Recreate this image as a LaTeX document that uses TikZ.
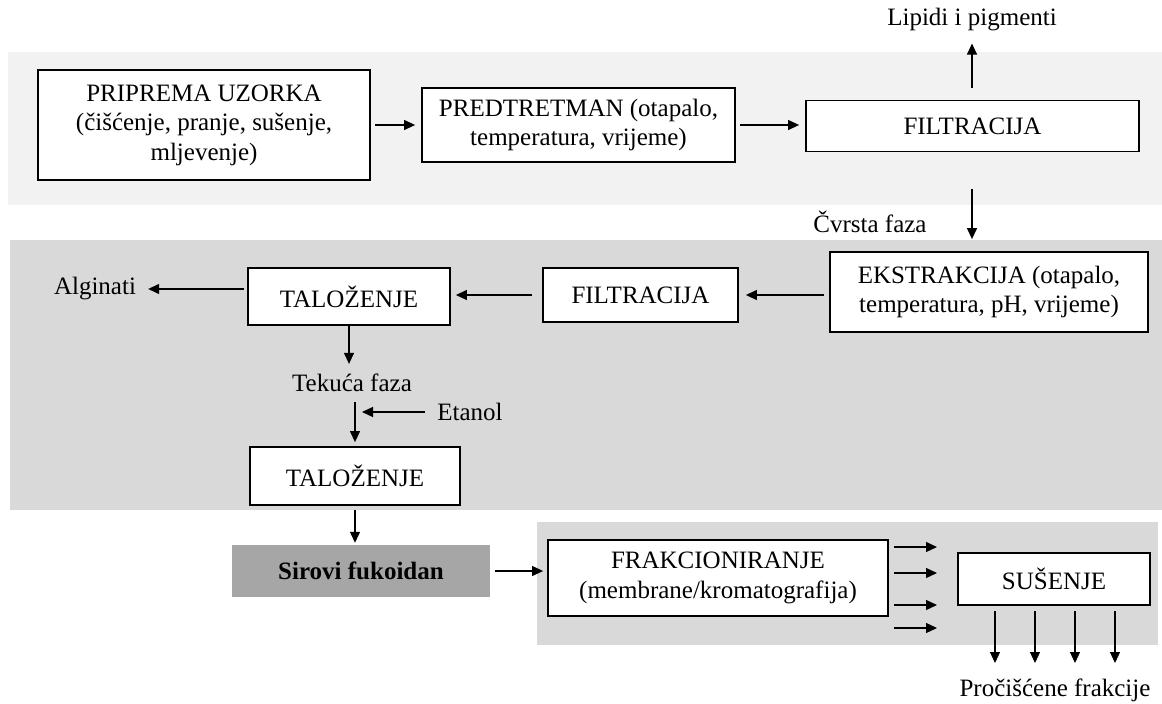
\documentclass[tikz,border=0pt]{standalone}
\usepackage{fontspec}
\setmainfont{Liberation Serif}
\usetikzlibrary{arrows.meta,calc}
\definecolor{bandA}{HTML}{F2F2F2}
\definecolor{bandB}{HTML}{D9D9D9}
\definecolor{crude}{HTML}{A6A6A6}
\begin{document}
\begin{tikzpicture}[x=1pt,y=-1pt,
  every node/.style={font=\fontsize{25}{29.5}\selectfont},
  box/.style={draw=black,line width=1.8pt,fill=white,align=center,inner sep=0pt},
  lbl/.style={inner sep=0pt,align=center},
  arr/.style={line width=1.2pt,-{Triangle[length=11pt,width=10pt]}}]
\useasboundingbox (0,0) rectangle (1162,704);
% bands
\fill[bandA] (8,52) rectangle (1162,205);
\fill[bandB] (10,240) rectangle (1162,510);
\fill[bandB] (537,522) rectangle (1158,645);
% nodes
\node[box,line width=2.4pt,minimum width=332pt,minimum height=110pt] (pri) at (204,125)
  {PRIPREMA UZORKA\\(čišćenje, pranje, sušenje,\\mljevenje)};
\node[box,minimum width=313pt,minimum height=74pt] (pre) at (578.5,125)
  {PREDTRETMAN (otapalo,\\temperatura, vrijeme)};
\node[box,minimum width=333pt,minimum height=51pt] (fil1) at (972.5,126)
  {FILTRACIJA};
\node[lbl] (lip) at (972,20) {Lipidi i pigmenti};
\node[lbl] (cvr) at (870,222) {Čvrsta faza};
\node[box,minimum width=318pt,minimum height=80pt] (eks) at (989,292)
  {EKSTRAKCIJA (otapalo,\\temperatura, pH, vrijeme)};
\node[box,minimum width=195pt,minimum height=54pt] (fil2) at (640.5,295) {FILTRACIJA};
\node[box,minimum width=202pt,minimum height=57pt] (tal1) at (349,296.5) {TALOŽENJE};
\node[lbl] (alg) at (95,289) {Alginati};
\node[lbl] (tek) at (352,383) {Tekuća faza};
\node[lbl] (eta) at (470,412) {Etanol};
\node[box,minimum width=210pt,minimum height=58pt] (tal2) at (355,476) {TALOŽENJE};
\node[fill=crude,inner sep=0pt,minimum width=258pt,minimum height=52pt,font=\fontsize{25}{29}\selectfont\bfseries] (sir) at (361,571) {Sirovi fukoidan};
\node[box,minimum width=340pt,minimum height=76pt] (frak) at (718,578)
  {FRAKCIONIRANJE\\(membrane/kromatografija)};
\node[box,minimum width=192pt,minimum height=52pt] (sus) at (1054,579) {SUŠENJE};
\node[lbl] (pro) at (1055,690) {Pročišćene frakcije};
% connectors
\draw[arr,shorten <=4pt,shorten >=6pt] (pri.east) -- (pri.east -| pre.west);
\draw[arr,shorten <=4pt,shorten >=6pt] (pre.east) -- (pre.east -| fil1.west);
\draw[arr,shorten <=12pt,shorten >=12pt] (fil1.north -| lip.south) -- (lip.south);
\coordinate (fd) at ($(fil1.south -| lip.south)+(0,37)$);
\draw[arr,shorten >=12pt] (fd) -- (fd |- eks.north);
\draw[arr,shorten <=5pt,shorten >=7pt] (eks.west |- fil2.east) -- (fil2.east);
\draw[arr,shorten <=10pt,shorten >=5pt] (fil2.west) -- (tal1.east |- fil2.west);
\draw[arr,shorten <=3pt,shorten >=12pt] (tal1.west |- alg.east) -- (alg.east);
\draw[arr,shorten >=10pt] (tal1.south) -- (tal1.south |- tek.north);
\draw[arr,shorten <=10pt,shorten >=4pt] (tek.south -| tal2.north) -- (tal2.north);
\coordinate (ee) at (362,412);
\draw[arr,shorten <=12pt] (eta.west) -- (ee);
\draw[arr,shorten <=4pt,shorten >=2pt] (tal2.south) -- (tal2.south |- sir.north);
\draw[arr,shorten <=5pt,shorten >=4pt] (sir.east) -- (frak.west |- sir.east);
\foreach \yy/\nm in {547/a,573/b,605/c,628/d}{
  \coordinate (fo\nm) at (937,\yy);
  \draw[arr,shorten <=5pt] (frak.east |- fo\nm) -- (fo\nm);
}
\foreach \xx/\nm in {995/a,1035/b,1075/c,1115/d}{
  \coordinate (so\nm) at (\xx,663);
  \draw[arr,shorten <=5pt] (sus.south -| so\nm) -- (so\nm);
}
\end{tikzpicture}
\end{document}
